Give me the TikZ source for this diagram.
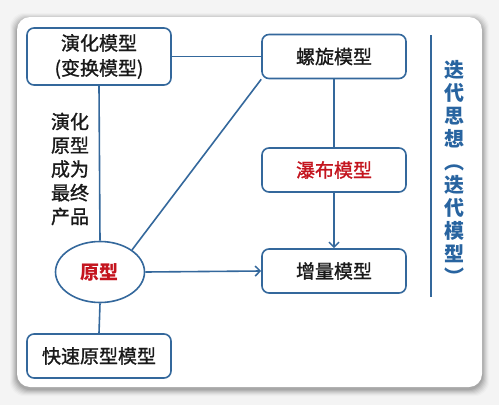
\documentclass[tikz,border=0pt]{standalone}
\usepackage{fontspec}
\setmainfont{Noto Sans CJK SC}
\newfontfamily\medfont[FakeBold=1.2]{Noto Sans CJK SC}
\usetikzlibrary{arrows.meta,shapes.geometric}
\definecolor{lineblue}{RGB}{52,104,156}
\definecolor{textblue}{RGB}{40,100,160}
\definecolor{redtext}{RGB}{196,20,30}
\definecolor{bggray}{RGB}{244,244,244}
\definecolor{textblack}{RGB}{25,25,25}
\tikzset{
  modelbox/.style={draw=lineblue, line width=1.6pt, rounded corners=7pt, fill=white,
    minimum width=144pt, minimum height=44pt, inner sep=0pt, align=center, text=textblack,
    font=\medfont\fontsize{19}{25}\selectfont},
  link/.style={draw=lineblue, line width=1.6pt},
  arr/.style={link, -{Straight Barb[length=5pt,width=10pt,line width=1.5pt]}},
}
\begin{document}
\begin{tikzpicture}[x=1pt,y=-1pt]
\useasboundingbox (0,0) rectangle (499,405);
\fill[bggray] (0,0) rectangle (499,405);
% soft shadow
\foreach \i/\o in {7/0.02,6/0.03,5/0.04,4/0.05,3/0.06,2/0.07,1/0.08}{
  \fill[black,opacity=\o,rounded corners=14pt] (17-\i,18-\i+2) rectangle (482+\i,387+\i+2);
}
\fill[white,rounded corners=13pt] (17,17) rectangle (482,387);

\node[modelbox, minimum height=57pt] (evo) at (99,56.5) {演化模型\\(变换模型)};
\node[modelbox] (spiral) at (334,56.5) {螺旋模型};
\node[modelbox, text=redtext] (water) at (334,170) {瀑布模型};
\node[modelbox] (incr) at (334,271) {增量模型};
\node[modelbox] (fast) at (99,356) {快速原型模型};
\node[draw=lineblue, line width=1.6pt, ellipse, fill=white, minimum width=89pt, minimum height=61pt,
  inner sep=0pt, text=redtext, font=\fontsize{19}{20}\selectfont\bfseries] (proto) at (100,272) {原型};

\node[align=center, text=textblack, font=\medfont\fontsize{19}{23.7}\selectfont] (lbl) at (70,169) {演化\\原型\\成为\\最终\\产品};

\draw[link] (evo.south) -- (proto.north);
\draw[link] (proto.south) -- (fast.north);
\draw[link] (evo.east) -- (spiral.west);
\draw[link] (spiral.south west) -- (proto.north east);
\draw[link] (spiral.south) -- (water.north);
\draw[arr] (water.south) -- (incr.north);
\draw[arr] (proto.east) -- (incr.west);

\coordinate (vt) at (431,35);
\coordinate (vb) at (431,297);
\draw[link] (vt) -- (vb);
\node[align=center, text=textblue, font=\fontsize{20}{23}\selectfont\bfseries] (iter) at (454,172)
  {迭\\代\\思\\想\\︵\\迭\\代\\模\\型\\︶};
\end{tikzpicture}
\end{document}
